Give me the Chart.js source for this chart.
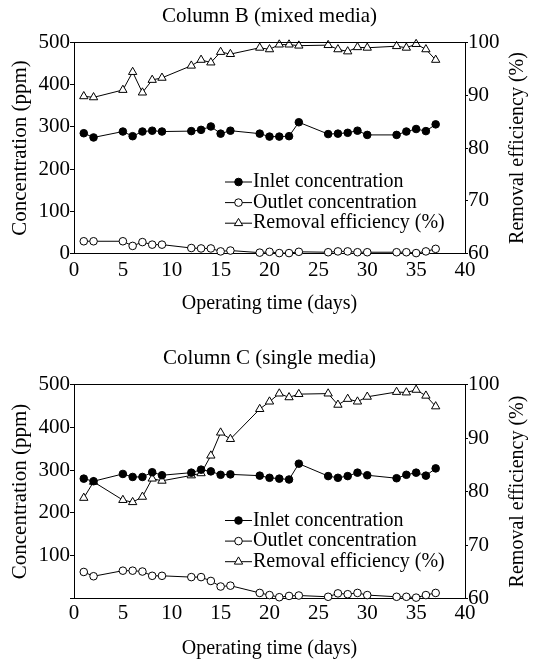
<!DOCTYPE html>
<html>
<head>
<meta charset="utf-8">
<script src="https://cdn.jsdelivr.net/npm/chart.js@4.4.0/dist/chart.umd.min.js"></script>
<style>
html,body{margin:0;padding:0;background:#fff;}
.box{position:relative;width:533px;height:331px;}
canvas{display:block;}
</style>
</head>
<body>
<div class="box"><canvas id="cB" width="533" height="331"></canvas></div>
<div class="box"><canvas id="cC" width="533" height="331"></canvas></div>
<script>
// ---- data ----
const days = [1, 2, 5, 6, 7, 8, 9, 12, 13, 14, 15, 16, 19, 20, 21, 22, 23, 26, 27, 28, 29, 30, 33, 34, 35, 36, 37];

// Column B (mixed media)
const inletB   = [285, 275, 289, 278, 289, 291, 289, 290, 293, 301, 284, 291, 284, 277, 277, 278, 311, 283, 284, 286, 291, 281, 281, 289, 295, 290, 306];
const outletB  = [29, 29, 29, 18, 27, 21, 21, 13, 12, 12, 5, 7, 2, 4, 1, 1, 4, 3, 5, 5, 3, 3, 3, 3, 1, 5, 11];
const removalB = [89.8, 89.6, 91.0, 94.4, 90.5, 92.9, 93.3, 95.6, 96.7, 96.2, 98.2, 97.8, 99.0, 98.7, 99.6, 99.6, 99.4, 99.5, 98.7, 98.3, 99.1, 99.0, 99.3, 99.0, 99.7, 98.7, 96.7];

// Column C (single media)
const inletC   = [280, 274, 291, 284, 284, 295, 288, 294, 301, 297, 289, 290, 287, 282, 280, 278, 315, 286, 282, 286, 294, 288, 281, 289, 294, 287, 304];
const outletC  = [62, 52, 65, 65, 63, 53, 53, 50, 50, 41, 28, 30, 13, 8, 3, 6, 7, 4, 12, 10, 13, 8, 4, 4, 2, 8, 13];
const removalC = [78.8, 81.8, 78.4, 78.0, 79.0, 82.4, 82.0, 83.0, 83.4, 86.7, 91.0, 89.8, 95.4, 96.8, 98.3, 97.6, 98.2, 98.3, 96.2, 97.3, 96.8, 97.7, 98.6, 98.5, 99.0, 97.9, 95.9];

// labels
const seriesLabels = ['Inlet concentration', 'Outlet concentration', 'Removal efficiency (%)'];
const xTitle = 'Operating time (days)';
const yTitle = 'Concentration (ppm)';
const y2Title = 'Removal efficiency (%)';
const titleB = 'Column B (mixed media)';
const titleC = 'Column C (single media)';

// ---- rendering ----
const FONT = "'Liberation Serif', 'Times New Roman', serif";

function pts(xs, ys) { return xs.map((x, i) => ({ x: x, y: ys[i] })); }

const framePlugin = {
  id: 'frameTop',
  afterDraw(chart) {
    const a = chart.chartArea, ctx = chart.ctx;
    const y = Math.round(a.top - 0.5) + 0.5;
    ctx.save();
    ctx.strokeStyle = '#000';
    ctx.lineWidth = 1;
    ctx.beginPath();
    ctx.moveTo(Math.round(a.left - 0.5) + 0.5, y);
    ctx.lineTo(Math.round(a.right - 0.5) + 0.5, y);
    ctx.stroke();
    ctx.restore();
  }
};

const rightTitlePlugin = {
  id: 'rightTitle',
  afterDraw(chart, args, opts) {
    const a = chart.chartArea, ctx = chart.ctx;
    ctx.save();
    ctx.translate(opts.x, (a.top + a.bottom) / 2 + (opts.dy || 0));
    ctx.rotate(-Math.PI / 2);
    ctx.font = '20px ' + FONT;
    ctx.fillStyle = '#000';
    ctx.textAlign = 'center';
    ctx.textBaseline = 'middle';
    ctx.fillText(opts.text, 0, 0);
    ctx.restore();
  }
};

const legendPlugin = {
  id: 'inlineLegend',
  afterDatasetsDraw(chart, args, opts) {
    const ctx = chart.ctx;
    ctx.save();
    chart.data.datasets.forEach((ds, i) => {
      const y = opts.y + i * opts.dy;
      ctx.strokeStyle = '#000';
      ctx.lineWidth = 1;
      ctx.beginPath();
      ctx.moveTo(opts.x0, y);
      ctx.lineTo(opts.x1, y);
      ctx.stroke();
      ctx.fillStyle = ds.pointBackgroundColor;
      ctx.strokeStyle = ds.pointBorderColor;
      Chart.helpers.drawPoint(ctx, {
        pointStyle: ds.pointStyle, radius: ds.pointRadius,
        borderWidth: ds.pointBorderWidth, rotation: 0
      }, (opts.x0 + opts.x1) / 2, y);
      ctx.font = '20px ' + FONT;
      ctx.fillStyle = '#000';
      ctx.textAlign = 'left';
      ctx.textBaseline = 'middle';
      ctx.fillText(ds.label, opts.tx, y);
    });
    ctx.restore();
  }
};

function makeChart(id, p) {
  const common = { borderColor: '#000', borderWidth: 1, pointBorderColor: '#000', pointBorderWidth: 1, tension: 0, clip: false, showLine: true };
  return new Chart(document.getElementById(id), {
    type: 'scatter',
    data: {
      datasets: [
        Object.assign({}, common, { label: seriesLabels[0], data: pts(days, p.inlet), yAxisID: 'y',
          pointStyle: 'circle', pointRadius: 3.8, pointBackgroundColor: '#000', backgroundColor: '#000' }),
        Object.assign({}, common, { label: seriesLabels[1], data: pts(days, p.outlet), yAxisID: 'y',
          pointStyle: 'circle', pointRadius: 3.8, pointBackgroundColor: '#fff', backgroundColor: '#fff' }),
        Object.assign({}, common, { label: seriesLabels[2], data: pts(days, p.removal), yAxisID: 'y2',
          pointStyle: 'triangle', pointRadius: 4.8, pointBackgroundColor: '#fff', backgroundColor: '#fff' })
      ]
    },
    options: {
      responsive: false,
      animation: false,
      devicePixelRatio: 1,
      layout: { padding: 0 },
      plugins: {
        legend: { display: false },
        tooltip: { enabled: false },
        title: {
          display: true, text: p.title, color: '#000', fullSize: false,
          font: { family: FONT, size: 21, weight: 'normal' },
          padding: { top: p.titleTop, bottom: p.titleBottom }
        },
        rightTitle: { text: y2Title, x: 518 },
        inlineLegend: { x0: 225, x1: 252, tx: 253, y: p.legY, dy: 20.6 }
      },
      scales: {
        x: {
          type: 'linear', position: 'bottom', min: 0, max: 40,
          afterFit: s => { s.height = p.xHeight; },
          ticks: { stepSize: 5, color: '#000', font: { family: FONT, size: 21 }, padding: p.xTickPad, maxRotation: 0, autoSkip: false },
          grid: { display: false },
          border: { display: true, color: '#000', width: 1 },
          title: { display: true, text: xTitle, color: '#000', font: { family: FONT, size: 20 }, padding: { top: 0, bottom: p.xTitlePad } }
        },
        y: {
          type: 'linear', position: 'left', min: 0, max: 500,
          afterFit: s => { s.width = 74; },
          ticks: { stepSize: 100, color: '#000', font: { family: FONT, size: 21 }, padding: 0,
            callback: v => (p.hideZero && v === 0) ? '' : String(v) },
          grid: { display: true, drawOnChartArea: false, drawTicks: true, tickLength: 4, color: '#000' },
          border: { display: true, color: '#000', width: 1 },
          title: { display: true, text: yTitle, color: '#000', font: { family: FONT, size: 21 }, padding: { top: 8, bottom: 0 } }
        },
        y2: {
          type: 'linear', position: 'right', min: 60, max: 100,
          afterFit: s => { s.width = 68; },
          ticks: { stepSize: 10, color: '#000', font: { family: FONT, size: 21 }, padding: 0 },
          grid: { display: true, drawOnChartArea: false, drawTicks: true, tickLength: 3, color: '#000' },
          border: { display: true, color: '#000', width: 1 },
          title: { display: false }
        }
      }
    },
    plugins: [framePlugin, rightTitlePlugin, legendPlugin]
  });
}

makeChart('cB', {
  title: titleB, inlet: inletB, outlet: outletB, removal: removalB,
  titleTop: 3.4, titleBottom: 13.9, xHeight: 77.5, xTickPad: -4, xTitlePad: 15,
  legY: 182, hideZero: false
});
makeChart('cC', {
  title: titleC, inlet: inletC, outlet: outletC, removal: removalC,
  titleTop: 14.4, titleBottom: 13.9, xHeight: 63.5, xTickPad: -6, xTitlePad: 1,
  legY: 189.5, hideZero: true
});
</script>
</body>
</html>
